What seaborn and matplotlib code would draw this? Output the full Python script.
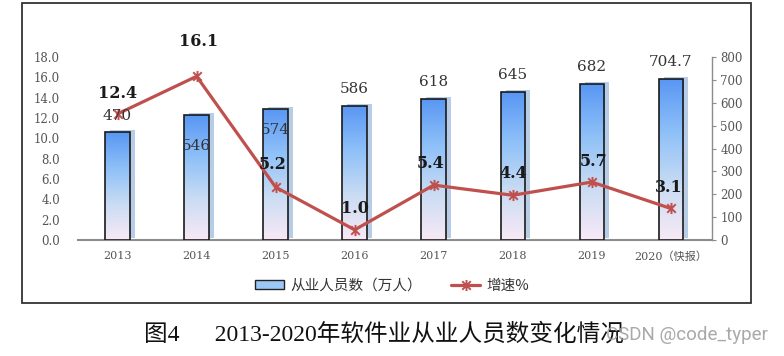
import numpy as np
import pandas as pd
import matplotlib
matplotlib.use('Agg')
import matplotlib.pyplot as plt
import seaborn as sns
from matplotlib.colors import LinearSegmentedColormap
from matplotlib.patches import Rectangle
from matplotlib.lines import Line2D
from matplotlib.path import Path
import matplotlib.transforms as mtransforms

# ---------------- data ----------------
years = ['2013', '2014', '2015', '2016', '2017', '2018', '2019', '2020（快报）']
employees = [470, 546, 574, 586, 618, 645, 682, 704.7]
growth = [12.4, 16.1, 5.2, 1.0, 5.4, 4.4, 5.7, 3.1]
emp_labels = ['470', '546', '574', '586', '618', '645', '682', '704.7']
growth_labels = ['12.4', '16.1', '5.2', '1.0', '5.4', '4.4', '5.7', '3.1']
left_ticks = [0, 2, 4, 6, 8, 10, 12, 14, 16, 18]
right_ticks = [0, 100, 200, 300, 400, 500, 600, 700, 800]
bar_name = '从业人员数（万人）'
line_name = '增速%'
caption = '图4      2013-2020年软件业从业人员数变化情况'
watermark = 'CSDN @code_typer'

# label offsets (pixels)
emp_label_dy = [16, -31, -21, 17, 17, 17, 17, 17]
growth_label_dy = [20, 35, 23, 21, 22, 22, 21, 21]
growth_label_dx = [0, 2, -3, 0, -3, 0, 2, -2]

sns.set_theme(style='white')
plt.rcParams['font.family'] = ['DejaVu Serif', 'Noto Sans CJK SC']

W, H = 784, 356
fig = plt.figure(figsize=(W / 100, H / 100), dpi=100)
ax_bar = fig.add_axes([78 / W, 1 - 240 / H, (712 - 78) / W, 183 / H])
ax_line = ax_bar.twinx()

red = '#c0504d'
df = pd.DataFrame({'year': years, 'emp': employees, 'growth': growth})

sns.barplot(data=df, x='year', y='emp', ax=ax_bar, width=0.31, color='#6aa8f7',
            edgecolor='#1a1a1a', linewidth=1.2, zorder=3)

cmap = LinearSegmentedColormap.from_list('g', ['#f8e9f6', '#c9dcf3', '#8ec0f8', '#5896f3'])
grad = np.linspace(0, 1, 256).reshape(-1, 1)
shadow_tr = ax_bar.transData + mtransforms.ScaledTranslation(0.05, 0.02, fig.dpi_scale_trans)
for p in list(ax_bar.patches):
    x0, y0, w, h = p.get_x(), p.get_y(), p.get_width(), p.get_height()
    sh = Rectangle((x0, y0), w, h, transform=shadow_tr, facecolor='#b7cce6',
                   edgecolor='none', zorder=2)
    ax_bar.add_patch(sh)
    im = ax_bar.imshow(grad, extent=[x0, x0 + w, y0, y0 + h], origin='lower',
                       aspect='auto', cmap=cmap, zorder=3.5)
    im.set_clip_path(p)
    p.set_facecolor('none')
    p.set_zorder(4)

ax_bar.set_xlim(-0.5, 7.52)
ax_bar.set_ylim(0, 800)
ax_bar.yaxis.tick_right()
ax_bar.set_yticks(right_ticks)
ax_bar.set_xlabel('')
ax_bar.set_ylabel('')
for s in ['top', 'left']:
    ax_bar.spines[s].set_visible(False)
ax_bar.spines['right'].set_color('#8c8c8c')
ax_bar.spines['bottom'].set_color('#8c8c8c')
ax_bar.spines['right'].set_linewidth(1.0)
ax_bar.spines['bottom'].set_linewidth(1.5)
ax_bar.tick_params(axis='y', right=True, direction='out', length=3, width=0.8,
                   color='#8c8c8c', labelsize=8.5, labelcolor='#555555', pad=3)
ax_bar.tick_params(axis='x', bottom=False, length=0, labelsize=8, labelcolor='#555555', pad=8)

# asterisk marker (X + vertical)
star = Path([(-1, -1), (1, 1), (-1, 1), (1, -1), (0, -1.3), (0, 1.3)],
            [Path.MOVETO, Path.LINETO] * 3)

sns.lineplot(x=np.arange(len(years)), y=growth, ax=ax_line, color=red, linewidth=2.3,
             marker=star, markersize=8, markeredgecolor=red, markeredgewidth=1.4,
             zorder=5)
ax_line.set_ylim(0, 18)
ax_line.yaxis.tick_left()
ax_line.set_yticks(left_ticks)
ax_line.set_yticklabels([f'{t:.1f}' for t in left_ticks])
ax_line.tick_params(axis='y', left=False, right=False, length=0, labelsize=8.5,
                    labelcolor='#555555', pad=13)
for s in ax_line.spines.values():
    s.set_visible(False)
ax_line.set_ylabel('')

for i, (g, t) in enumerate(zip(growth, growth_labels)):
    ax_line.annotate(t, xy=(i, g), xytext=(growth_label_dx[i] * 0.72, growth_label_dy[i] * 0.72),
                     textcoords='offset points', ha='center', va='center',
                     fontsize=11.5, fontweight='bold', color='#1a1a1a', zorder=6)
for i, (e, t) in enumerate(zip(employees, emp_labels)):
    ax_line.annotate(t, xy=(i, e), xycoords=ax_bar.transData,
                     xytext=(0, emp_label_dy[i] * 0.72), textcoords='offset points',
                     ha='center', va='center', fontsize=11, color='#333333', zorder=6)

# legend
h_bar = Rectangle((0, 0), 1, 1, facecolor='#9cc8f5', edgecolor='#222222', linewidth=1.0)
h_line = Line2D([], [], color=red, linewidth=2.3, marker=star, markersize=8,
                markeredgecolor=red, markeredgewidth=1.4)
fig.legend([h_bar, h_line], [bar_name, line_name], loc='center',
           bbox_to_anchor=(392 / W, 1 - 286 / H), ncol=2, frameon=False,
           prop={'family': ['Noto Sans CJK SC'], 'size': 10.5}, handlelength=2.0,
           handleheight=0.6, columnspacing=2.0, handletextpad=0.4, labelcolor='#333333')

# outer frame
fig.add_artist(Rectangle((22 / W, 1 - 303 / H), (751 - 22) / W, (303 - 3) / H,
                         transform=fig.transFigure, fill=False, edgecolor='#333333',
                         linewidth=1.3))

fig.text(144 / W, 1 - 334 / H, caption, ha='left', va='center', fontsize=17,
         family=['Liberation Serif', 'Noto Sans CJK SC'], color='#111111')
fig.text(768 / W, 1 - 335 / H, watermark, ha='right', va='center', fontsize=13.5,
         family=['Roboto'], color='#a0a0a0', alpha=0.9)

fig.savefig('out.png', dpi=100)
